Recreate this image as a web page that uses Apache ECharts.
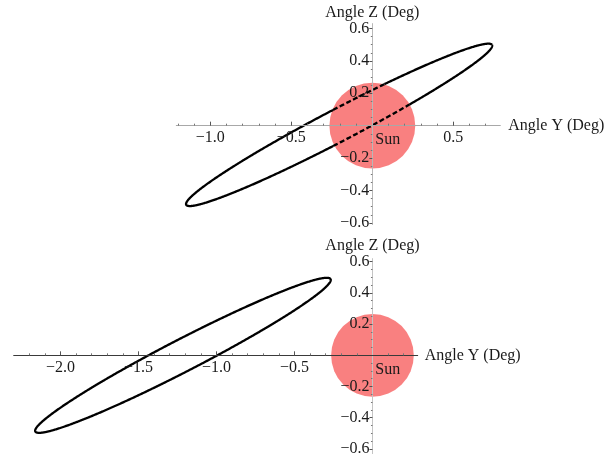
<!DOCTYPE html>
<html>
<head>
<meta charset="utf-8">
<script src="https://cdn.jsdelivr.net/npm/echarts@6/dist/echarts.min.js"></script>
<style>
  html, body { margin: 0; padding: 0; background: #ffffff; }
  #chart { width: 613px; height: 454px; }
</style>
</head>
<body>
<div id="chart"></div>
<script>
// Orbit ellipses in the sky plane: [centre Y, centre Z, semi-major, semi-minor, tilt (deg)]
const orbitTop = [-0.205, 0.005, 1.065, 0.099, 27.6];
const orbitBottom = [-1.215, 0.0, 1.065, 0.103, 27.3];

// Solar disc: centre and angular radius (deg)
const sunCentre = [0, 0];
const sunRadius = 0.265;
const sunLabel = 'Sun';
const sunLabelAt = [0.018, -0.09];

// Axis titles
const nameY = 'Angle Y (Deg)';
const nameZ = 'Angle Z (Deg)';

// Tick positions, upper panel
const topXMajor = [-1.0, -0.5, 0.5];
const topXMinor = [-1.2, -1.1, -0.9, -0.8, -0.7, -0.6, -0.4, -0.3, -0.2, -0.1,
                   0.1, 0.2, 0.3, 0.4, 0.6, 0.7];
// Tick positions, lower panel
const botXMajor = [-2.0, -1.5, -1.0, -0.5];
const botXMinor = [-2.2, -2.1, -1.9, -1.8, -1.7, -1.6, -1.4, -1.3, -1.2, -1.1,
                   -0.9, -0.8, -0.7, -0.6, -0.4, -0.3, -0.2, -0.1, 0.1, 0.2];
// Z ticks, shared by both panels
const zMajor = [-0.6, -0.4, -0.2, 0.2, 0.4, 0.6];
const zMinor = [-0.55, -0.5, -0.45, -0.35, -0.3, -0.25, -0.15, -0.1, -0.05,
                0.05, 0.1, 0.15, 0.25, 0.3, 0.35, 0.45, 0.5, 0.55];

// Panel frames (pixels) and data ranges
const panels = [
  { left: 176.3, top: 23.6, width: 324, height: 200.9,
    xMin: -1.21, xMax: 0.79, yMin: -0.61, yMax: 0.63,
    xMajor: topXMajor, xMinor: topXMinor, xLine: '#a8a8a8', yLine: '#b8b8b8', zGap: 2, yGap: 8 },
  { left: 13.7, top: 258.6, width: 404, height: 195,
    xMin: -2.30, xMax: 0.29, yMin: -0.63, yMax: 0.62,
    xMajor: botXMajor, xMinor: botXMinor, xLine: '#3a3a3a', yLine: '#c4c4c4', zGap: 3, yGap: 7 }
];

const FONT = "'Liberation Serif', 'Times New Roman', serif";
const TEXT_COLOR = '#1a1a1a';
const AXIS_Z = 5;

function tickText(v) {
  return (v < 0 ? '\u2212' : '') + Math.abs(v).toFixed(1);
}

// Axes cross at the origin: shift them in from the frame edge
function xAxesFor(gi, p) {
  const off = -(0 - p.yMin) / (p.yMax - p.yMin) * p.height;
  return [
    {
      type: 'value', gridIndex: gi, min: p.xMin, max: p.xMax, position: 'bottom', offset: off, z: AXIS_Z,
      name: nameY, nameLocation: 'end', nameGap: p.yGap,
      nameTextStyle: { fontFamily: FONT, fontSize: 16, color: TEXT_COLOR, align: 'left', verticalAlign: 'middle' },
      axisLine: { show: true, onZero: false, lineStyle: { color: p.xLine, width: 1 } },
      axisTick: { show: true, inside: true, length: 4, customValues: p.xMajor, lineStyle: { color: '#555', width: 1 } },
      axisLabel: { show: true, customValues: p.xMajor, formatter: tickText, margin: 4,
                   fontFamily: FONT, fontSize: 16, color: TEXT_COLOR },
      splitLine: { show: false }
    },
    {
      type: 'value', gridIndex: gi, min: p.xMin, max: p.xMax, position: 'bottom', offset: off, z: AXIS_Z,
      axisLine: { show: false, onZero: false },
      axisTick: { show: true, inside: true, length: 2, customValues: p.xMinor, lineStyle: { color: '#777', width: 1 } },
      axisLabel: { show: false },
      splitLine: { show: false }
    }
  ];
}

function yAxesFor(gi, p) {
  const off = -(0 - p.xMin) / (p.xMax - p.xMin) * p.width;
  return [
    {
      type: 'value', gridIndex: gi, min: p.yMin, max: p.yMax, position: 'left', offset: off, z: AXIS_Z,
      name: nameZ, nameLocation: 'end', nameGap: p.zGap,
      nameTextStyle: { fontFamily: FONT, fontSize: 16, color: TEXT_COLOR },
      axisLine: { show: true, onZero: false, lineStyle: { color: p.yLine, width: 1 } },
      axisTick: { show: true, inside: false, length: 3, customValues: zMajor, lineStyle: { color: '#555', width: 1 } },
      axisLabel: { show: true, customValues: zMajor, formatter: tickText, margin: 3,
                   fontFamily: FONT, fontSize: 16, color: TEXT_COLOR },
      splitLine: { show: false }
    },
    {
      type: 'value', gridIndex: gi, min: p.yMin, max: p.yMax, position: 'left', offset: off, z: AXIS_Z,
      axisLine: { show: false, onZero: false },
      axisTick: { show: true, inside: false, length: 1.5, customValues: zMinor, lineStyle: { color: '#777', width: 1 } },
      axisLabel: { show: false },
      splitLine: { show: false }
    }
  ];
}

// Solar disc plus its caption
function renderSun(params, api) {
  const c = api.coord([api.value(0), api.value(1)]);
  const sz = api.size([api.value(2), api.value(2)]);
  const r = (sz[0] + sz[1]) / 2;
  const t = api.coord(sunLabelAt);
  return {
    type: 'group',
    children: [
      { type: 'circle', shape: { cx: c[0], cy: c[1], r: r },
        style: { fill: 'rgba(246, 60, 60, 0.65)', stroke: null } },
      { type: 'text', z2: 10, style: { text: sunLabel, x: t[0], y: t[1], align: 'left', verticalAlign: 'middle',
        font: '16px ' + FONT, fill: TEXT_COLOR } }
    ]
  };
}

// Orbit outline: solid where it lies off the disc, dashed where it crosses it
function renderOrbit(params, api) {
  const cy = api.value(0), cz = api.value(1), a = api.value(2), b = api.value(3);
  const tilt = api.value(4) * Math.PI / 180;
  const steps = 720;
  const segments = [];
  let cur = null;
  for (let i = 0; i <= steps; i++) {
    const s = 2 * Math.PI * i / steps;
    const u = a * Math.cos(s), v = b * Math.sin(s);
    const y = cy + u * Math.cos(tilt) - v * Math.sin(tilt);
    const z = cz + u * Math.sin(tilt) + v * Math.cos(tilt);
    const inside = Math.hypot(y - sunCentre[0], z - sunCentre[1]) < sunRadius;
    const p = api.coord([y, z]);
    if (!cur || cur.inside !== inside) {
      const start = cur ? [cur.pts[cur.pts.length - 1]] : [];
      cur = { inside: inside, pts: start };
      segments.push(cur);
    }
    cur.pts.push(p);
  }
  return {
    type: 'group',
    children: segments.map(function (seg) {
      return {
        type: 'polyline',
        shape: { points: seg.pts },
        style: {
          fill: null, stroke: '#000000', lineWidth: 2.3,
          lineDash: seg.inside ? [5, 2.5] : null, lineCap: 'butt', lineJoin: 'round'
        }
      };
    })
  };
}

const chart = echarts.init(document.getElementById('chart'), null, { renderer: 'canvas' });

chart.setOption({
  animation: false,
  backgroundColor: '#ffffff',
  grid: panels.map(function (p) {
    return { left: p.left, top: p.top, width: p.width, height: p.height,
             containLabel: false, outerBoundsMode: 'none' };
  }),
  xAxis: xAxesFor(0, panels[0]).concat(xAxesFor(1, panels[1])),
  yAxis: yAxesFor(0, panels[0]).concat(yAxesFor(1, panels[1])),
  series: [
    { type: 'custom', xAxisIndex: 0, yAxisIndex: 0, clip: false, silent: true, z: 1,
      renderItem: renderSun, data: [[sunCentre[0], sunCentre[1], sunRadius]] },
    { type: 'custom', xAxisIndex: 0, yAxisIndex: 0, clip: false, silent: true, z: 2,
      renderItem: renderOrbit, data: [orbitTop] },
    { type: 'custom', xAxisIndex: 2, yAxisIndex: 2, clip: false, silent: true, z: 1,
      renderItem: renderSun, data: [[sunCentre[0], sunCentre[1], sunRadius]] },
    { type: 'custom', xAxisIndex: 2, yAxisIndex: 2, clip: false, silent: true, z: 2,
      renderItem: renderOrbit, data: [orbitBottom] }
  ]
});
</script>
</body>
</html>
